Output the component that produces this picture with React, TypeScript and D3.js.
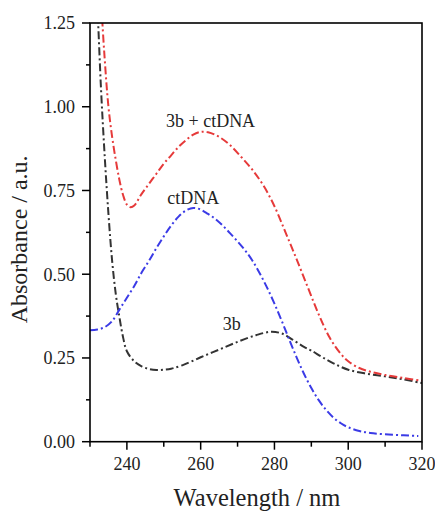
import React from "react";
import * as d3 from "d3";

const W = 435;
const H = 511;

const xTicks = [240, 260, 280, 300, 320];
const xMinor = [230, 250, 270, 290, 310];
const yTicks = [0, 0.25, 0.5, 0.75, 1.0, 1.25];
const yMinor = [0.125, 0.375, 0.625, 0.875, 1.125];

const wl3b = [230, 231, 232, 233, 234, 235, 236, 237, 238, 239, 240, 242, 244, 246, 248, 250, 252, 255, 260, 265, 270, 275, 279, 282, 285, 288, 290, 293, 296, 300, 305, 310, 315, 320];
const abs3b = [1.75, 1.5, 1.3, 1.05, 0.85, 0.68, 0.54, 0.44, 0.37, 0.31, 0.27, 0.24, 0.225, 0.217, 0.214, 0.215, 0.218, 0.228, 0.252, 0.275, 0.298, 0.318, 0.328, 0.323, 0.304, 0.283, 0.272, 0.252, 0.234, 0.215, 0.203, 0.195, 0.186, 0.175];

const wlMix = [232, 233, 234, 235, 236, 237, 238, 239, 240, 241, 242, 244, 246, 248, 250, 252, 254, 256, 258, 260, 262, 265, 268, 271, 274, 277, 280, 283, 286, 289, 292, 295, 298, 300, 303, 306, 310, 315, 320];
const absMix = [1.55, 1.32, 1.14, 1.0, 0.91, 0.84, 0.78, 0.735, 0.708, 0.7, 0.705, 0.74, 0.77, 0.8, 0.83, 0.855, 0.88, 0.9, 0.917, 0.925, 0.924, 0.91, 0.885, 0.85, 0.812, 0.765, 0.703, 0.625, 0.545, 0.462, 0.38, 0.31, 0.262, 0.24, 0.22, 0.209, 0.199, 0.19, 0.182];

const wlDNA = [230, 232, 234, 236, 238, 240, 242, 244, 246, 248, 250, 252, 254, 256, 258, 260, 262, 264, 266, 268, 270, 272, 274, 276, 278, 280, 282, 284, 286, 288, 290, 292, 294, 296, 298, 300, 303, 306, 310, 315, 319];
const absDNA = [0.333, 0.335, 0.342, 0.36, 0.395, 0.43, 0.465, 0.505, 0.54, 0.578, 0.613, 0.645, 0.672, 0.69, 0.698, 0.693, 0.68, 0.665, 0.645, 0.622, 0.598, 0.572, 0.541, 0.503, 0.46, 0.412, 0.36, 0.305, 0.252, 0.203, 0.16, 0.124, 0.095, 0.072, 0.055, 0.043, 0.032, 0.026, 0.022, 0.019, 0.017];

const series = [
  { name: "3b", wl: wl3b, abs: abs3b, color: "#333333" },
  { name: "ctDNA", wl: wlDNA, abs: absDNA, color: "#3b3be6" },
  { name: "3b + ctDNA", wl: wlMix, abs: absMix, color: "#e63a3a" },
];

const labels = [
  { text: "3b + ctDNA", wl: 250.6, a: 0.94 },
  { text: "ctDNA", wl: 250.95, a: 0.71 },
  { text: "3b", wl: 266, a: 0.333 },
];

const m = { left: 90, right: 422, top: 23, bottom: 441.7 };
const font = '"Times New Roman", Times, "Liberation Serif", Tinos, "Noto Serif", "DejaVu Serif", FreeSerif, serif';

export default function App() {
  const x = d3.scaleLinear().domain([230, 320]).range([m.left, m.right]);
  const y = d3.scaleLinear().domain([0, 1.25]).range([m.bottom, m.top]);
  const line = (wl: number[], ab: number[]) =>
    d3
      .line<number>()
      .x((_, i) => x(wl[i]))
      .y((d) => y(d))
      .curve(d3.curveCatmullRom.alpha(0.5))(ab) || "";
  const ts = { fontFamily: font };

  return (
    <svg
      width={W}
      height={H}
      style={{ position: "absolute", left: 0, top: 0, background: "#fff", fontFamily: font }}
    >
      <defs>
        <clipPath id="plot">
          <rect x={m.left} y={m.top} width={m.right - m.left} height={m.bottom - m.top} />
        </clipPath>
      </defs>
      <rect x={0} y={0} width={W} height={H} fill="#fff" />
      <g clipPath="url(#plot)">
        {series.map((s) => (
          <path
            key={s.name}
            d={line(s.wl, s.abs)}
            fill="none"
            stroke={s.color}
            strokeWidth={2}
            strokeDasharray="8 3 2 3"
          />
        ))}
      </g>
      <rect
        x={m.left}
        y={m.top}
        width={m.right - m.left}
        height={m.bottom - m.top}
        fill="none"
        stroke="#000"
        strokeWidth={1.6}
      />
      {yTicks.map((t) => (
        <g key={"y" + t}>
          <line x1={m.left - 8} x2={m.left} y1={y(t)} y2={y(t)} stroke="#000" strokeWidth={1.5} />
          <text style={ts} x={m.left - 15} y={y(t)} dy="0.35em" textAnchor="end" fontSize={18} fill="#222">
            {t.toFixed(2)}
          </text>
        </g>
      ))}
      {yMinor.map((t) => (
        <line key={"ym" + t} x1={m.left - 4} x2={m.left} y1={y(t)} y2={y(t)} stroke="#000" strokeWidth={1.5} />
      ))}
      {xTicks.map((t) => (
        <g key={"x" + t}>
          <line x1={x(t)} x2={x(t)} y1={m.bottom} y2={m.bottom + 8} stroke="#000" strokeWidth={1.5} />
          <text style={ts} x={x(t)} y={m.bottom + 28} textAnchor="middle" fontSize={18} fill="#222">
            {t}
          </text>
        </g>
      ))}
      {xMinor.map((t) => (
        <line key={"xm" + t} x1={x(t)} x2={x(t)} y1={m.bottom} y2={m.bottom + 5} stroke="#000" strokeWidth={1.5} />
      ))}
      {labels.map((l) => (
        <text style={ts} key={l.text} x={x(l.wl)} y={y(l.a)} fontSize={18} fill="#222">
          {l.text}
        </text>
      ))}
      <text style={ts} x={(m.left + m.right) / 2 + 1} y={506} textAnchor="middle" fontSize={24.5} fill="#222">
        Wavelength / nm
      </text>
      <text
        style={ts}
        transform={`translate(27, ${(m.top + m.bottom) / 2 + 7}) rotate(-90)`}
        textAnchor="middle"
        fontSize={24}
        fill="#222"
      >
        Absorbance / a.u.
      </text>
    </svg>
  );
}
